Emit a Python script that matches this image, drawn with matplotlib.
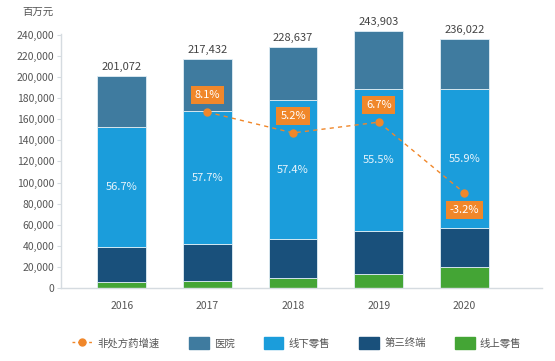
import matplotlib
matplotlib.use('Agg')
import matplotlib.pyplot as plt
from matplotlib.lines import Line2D
from matplotlib.patches import Patch

plt.rcParams['font.family'] = ['Noto Sans CJK SC', 'DejaVu Sans']

# data (百万元)
years = ['2016', '2017', '2018', '2019', '2020']
online = [6000, 6600, 9500, 13000, 19600]          # 线上零售
terminal = [32900, 35400, 37200, 40700, 37000]     # 第三终端
offline = [114008, 125458, 131238, 135366, 131936] # 线下零售
hospital = [48164, 49974, 50699, 54837, 47486]     # 医院
totals = [201072, 217432, 228637, 243903, 236022]
offline_share = ['56.7%', '57.7%', '57.4%', '55.5%', '55.9%']
growth_years = [1, 2, 3, 4]
growth = [8.1, 5.2, 6.7, -3.2]                     # 非处方药增速 (%)

c_hosp = '#3f7b9f'
c_off = '#1b9ddb'
c_term = '#19507b'
c_on = '#44a535'
c_org = '#f0872a'
c_txt = '#555555'
c_axis = '#d5dbe0'

fig = plt.figure(figsize=(5.55, 3.61), dpi=100)
ax = fig.add_axes([0.110, 0.202, 0.867, 0.731])

x = list(range(len(years)))
w = 0.57
b2 = [a + b for a, b in zip(online, terminal)]
b3 = [a + b for a, b in zip(b2, offline)]
ax.bar(x, online, w, color=c_on, edgecolor='#e0eef5', linewidth=0.6)
ax.bar(x, terminal, w, bottom=online, color=c_term, edgecolor='#e0eef5', linewidth=0.6)
ax.bar(x, offline, w, bottom=b2, color=c_off, edgecolor='#e0eef5', linewidth=0.6)
ax.bar(x, hospital, w, bottom=b3, color=c_hosp, edgecolor='#e0eef5', linewidth=0.6)

for i in x:
    ax.text(i, totals[i] + 3500, f'{totals[i]:,}', ha='center', va='bottom',
            fontsize=8, color='#444444')
    ax.text(i, b2[i] + offline[i] / 2, offline_share[i], ha='center', va='center',
            fontsize=8, color='#e8f4fb')

ax.set_xlim(-0.71, 4.91)
ax.set_ylim(0, 250000)
ax.set_yticks(range(0, 240001, 20000))
ax.set_yticklabels([f'{v:,}' for v in range(0, 240001, 20000)])
ax.set_xticks(x)
ax.set_xticklabels(years)
ax.tick_params(axis='y', labelsize=7.5, colors=c_axis, labelcolor=c_txt, length=3, pad=2)
ax.tick_params(axis='x', labelsize=7.5, labelcolor=c_txt, length=0, pad=9)
for s in ['top', 'right']:
    ax.spines[s].set_visible(False)
for s in ['left', 'bottom']:
    ax.spines[s].set_color(c_axis)
    ax.spines[s].set_linewidth(1.0)
ax.spines['left'].set_bounds(0, 241000)

# growth line on secondary axis
ax2 = ax.twinx()
ax2.set_ylim(-16.5, 20.4)
ax2.axis('off')
ax2.plot(growth_years, growth, color=c_org, linestyle=(0, (3, 3)), linewidth=1,
         marker='o', markersize=5)
for gx, gv in zip(growth_years, growth):
    off = -17 if gv < 0 else 17
    ax2.annotate(f'{gv}%', (gx, gv), xytext=(0, off), textcoords='offset pixels',
                 ha='center', va='center', fontsize=8, color='white',
                 bbox=dict(boxstyle='square,pad=0.35', fc=c_org, ec='none'))

fig.text(0.04, 0.968, '百万元', fontsize=7.5, color=c_txt, va='center')

handles = [
    Line2D([], [], color=c_org, linestyle=(0, (2, 2)), linewidth=1, marker='o',
           markersize=5),
    Patch(color=c_hosp), Patch(color=c_off), Patch(color=c_term), Patch(color=c_on),
]
labels = ['非处方药增速', '医院', '线下零售', '第三终端', '线上零售']
fig.legend(handles, labels, loc='center', bbox_to_anchor=(0.535, 0.05), ncol=5,
           frameon=False, fontsize=7.5, labelcolor=c_txt, handlelength=1.9,
           handleheight=1.4, columnspacing=2.8, handletextpad=0.5)

fig.savefig('out.png', dpi=100)
